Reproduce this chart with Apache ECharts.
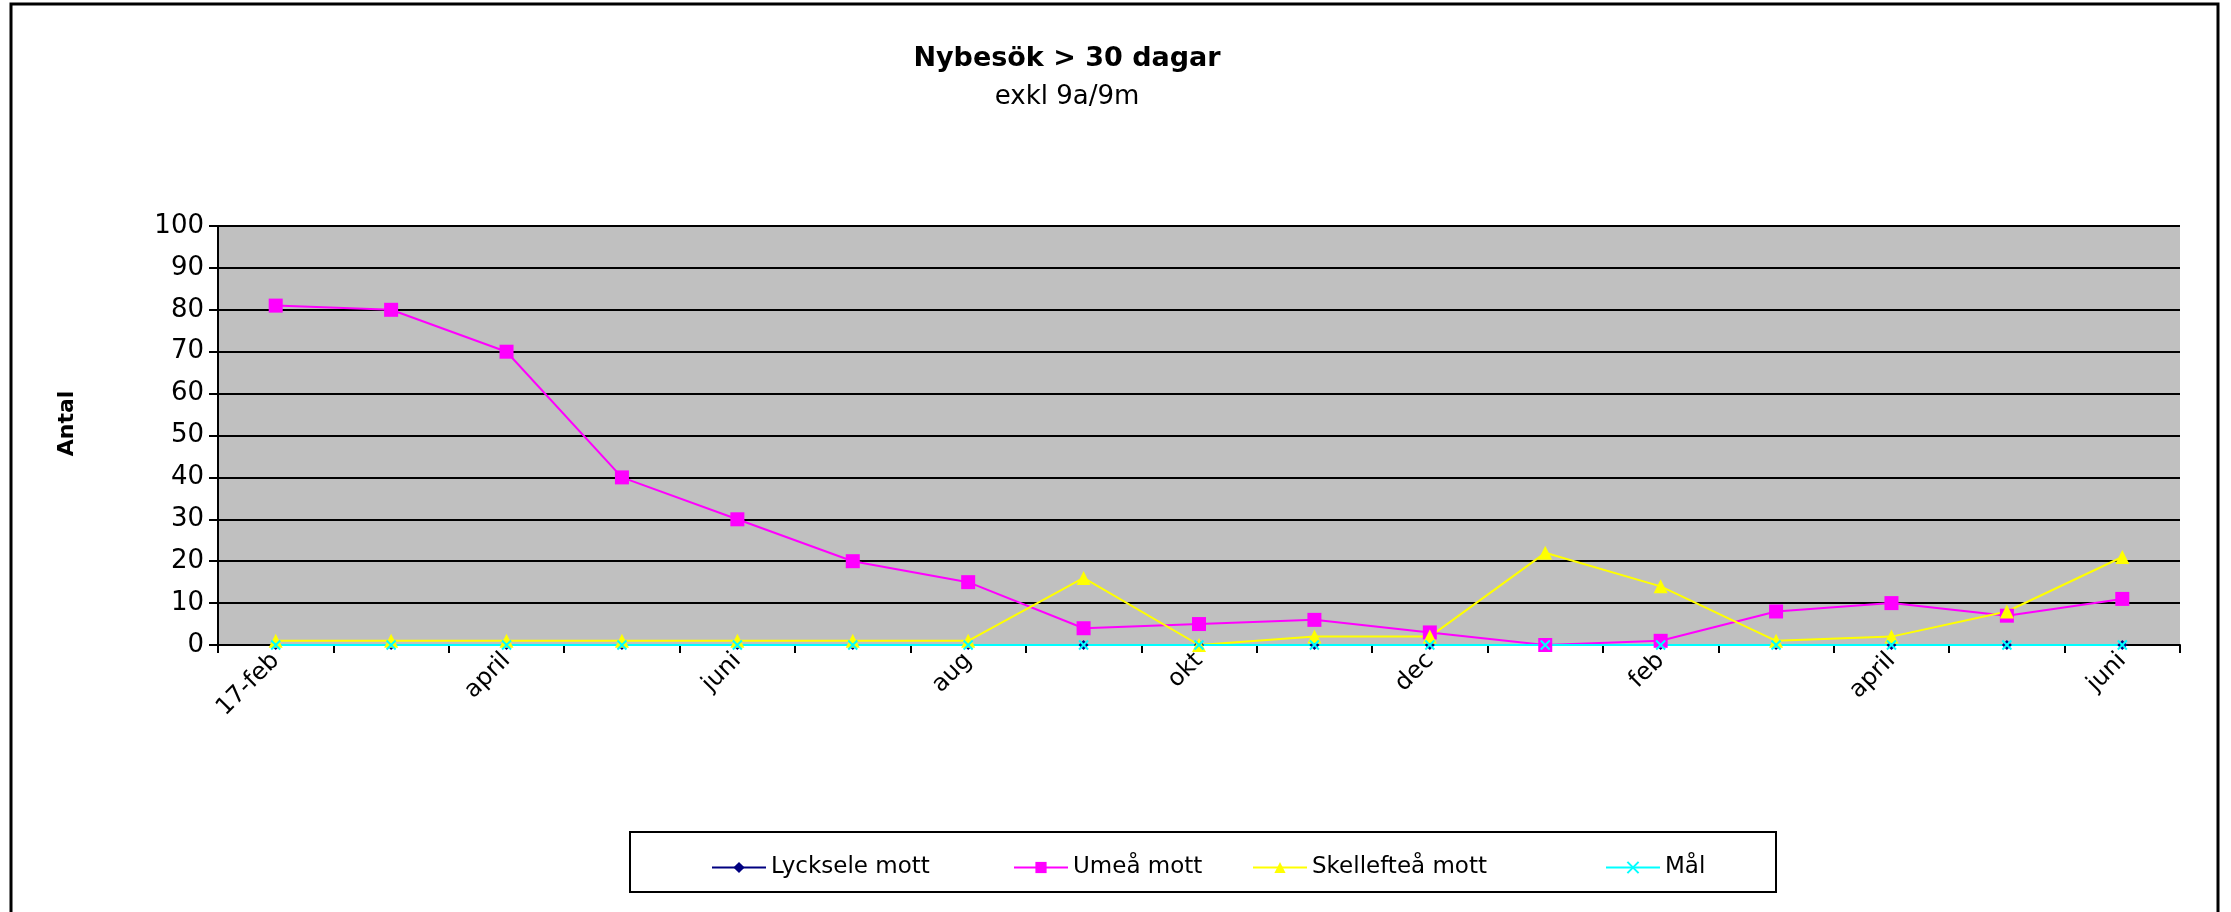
<!DOCTYPE html>
<html>
<head>
<meta charset="utf-8">
<script src="https://cdn.jsdelivr.net/npm/echarts@6/dist/echarts.min.js"></script>
<style>
  html, body { margin: 0; padding: 0; background: #fff; }
  #main { width: 2231px; height: 912px; }
</style>
</head>
<body>
<div id="main"></div>
<script>
// kategorier (månader), bara varannan etikett visas
var months = ['17-feb', 'mars', 'april', 'maj', 'juni', 'juli', 'aug', 'sep', 'okt', 'nov', 'dec', 'jan', 'feb', 'mars', 'april', 'maj', 'juni'];

// serier
var lycksele = [0, 0, 0, 0, 0, 0, 0, 0, 0, 0, 0, 0, 0, 0, 0, 0, 0];
var umea = [81, 80, 70, 40, 30, 20, 15, 4, 5, 6, 3, 0, 1, 8, 10, 7, 11];
var skelleftea = [1, 1, 1, 1, 1, 1, 1, 16, 0, 2, 2, 22, 14, 1, 2, 8, 21];
var mal = [0, 0, 0, 0, 0, 0, 0, 0, 0, 0, 0, 0, 0, 0, 0, 0, 0];

var seriesNames = ['Lycksele mott', 'Umeå mott', 'Skellefteå mott', 'Mål'];

var font = 'DejaVu Sans, sans-serif';

var chart = echarts.init(document.getElementById('main'));

// en legend per post så att de hamnar som i originalet
var legendLefts = [711, 1013, 1252, 1605];
var legends = seriesNames.map(function (n, i) {
  return {
    data: [n],
    left: legendLefts[i],
    top: 856,
    padding: 0,
    itemWidth: 54,
    itemHeight: 14,
    textStyle: { fontFamily: font, fontSize: 23, color: '#000' }
  };
});

var option = {
  backgroundColor: '#fff',
  animation: false,
  title: {
    text: 'Nybesök > 30 dagar',
    subtext: 'exkl 9a/9m',
    left: 1062,
    top: 40,
    textAlign: 'center',
    itemGap: 12,
    textStyle: { fontFamily: font, fontSize: 27, fontWeight: 'bold', color: '#000' },
    subtextStyle: { fontFamily: font, fontSize: 26, color: '#000' }
  },
  legend: legends,
  grid: {
    left: 218,
    top: 226,
    right: 51,
    bottom: 267,
    show: true,
    backgroundColor: '#C0C0C0',
    borderWidth: 0
  },
  xAxis: {
    type: 'category',
    data: months,
    boundaryGap: true,
    axisLine: { lineStyle: { color: '#000', width: 2 } },
    axisTick: { show: true, interval: 0, length: 8, lineStyle: { color: '#000', width: 2 } },
    axisLabel: {
      interval: 1,
      rotate: 45,
      margin: 12,
      fontFamily: font,
      fontSize: 24,
      color: '#000'
    }
  },
  yAxis: {
    type: 'value',
    min: 0,
    max: 100,
    interval: 10,
    name: 'Antal',
    nameLocation: 'middle',
    nameRotate: 90,
    nameGap: 140,
    nameTextStyle: { fontFamily: font, fontSize: 22, fontWeight: 'bold', color: '#000', padding: [0, 0, 0, 24] },
    axisLine: { show: true, lineStyle: { color: '#000', width: 2 } },
    axisTick: { show: true, length: 9, lineStyle: { color: '#000', width: 2 } },
    axisLabel: { fontFamily: font, fontSize: 26, color: '#000', margin: 14 },
    splitLine: { lineStyle: { color: '#000', width: 2 } }
  },
  graphic: [
    {
      type: 'polyline',
      shape: { points: [[11, 912], [11, 4], [2218, 4], [2218, 912]] },
      style: { stroke: '#000', lineWidth: 3, fill: null },
      silent: true
    },
    {
      type: 'rect',
      shape: { x: 630, y: 832, width: 1146, height: 60 },
      style: { stroke: '#000', lineWidth: 2, fill: null },
      silent: true
    }
  ],
  series: [
    {
      name: seriesNames[0],
      type: 'line',
      data: lycksele,
      symbol: 'diamond',
      symbolSize: 10,
      lineStyle: { color: '#000080', width: 2 },
      itemStyle: { color: '#000080' }
    },
    {
      name: seriesNames[1],
      type: 'line',
      data: umea,
      symbol: 'rect',
      symbolSize: 14,
      lineStyle: { color: '#FF00FF', width: 2 },
      itemStyle: { color: '#FF00FF' }
    },
    {
      name: seriesNames[2],
      type: 'line',
      data: skelleftea,
      symbol: 'triangle',
      symbolSize: 14,
      lineStyle: { color: '#FFFF00', width: 2 },
      itemStyle: { color: '#FFFF00' }
    },
    {
      name: seriesNames[3],
      type: 'line',
      data: mal,
      symbol: 'path://M0,0L10,10M10,0L0,10',
      symbolSize: 9,
      lineStyle: { color: '#00FFFF', width: 2 },
      itemStyle: { color: '#00FFFF', borderColor: '#00FFFF', borderWidth: 2 }
    }
  ]
};

chart.setOption(option);
</script>
</body>
</html>
